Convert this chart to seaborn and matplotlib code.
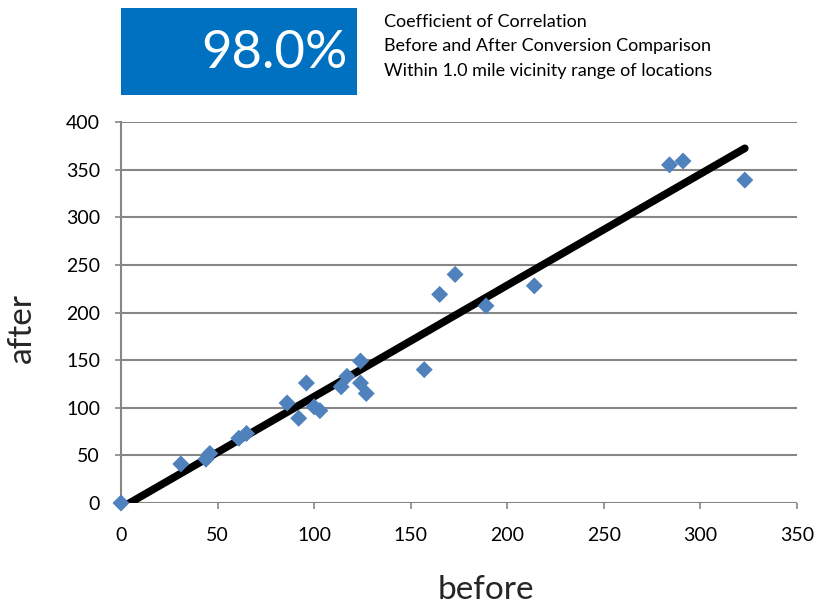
import matplotlib
matplotlib.use("Agg")
import matplotlib.pyplot as plt
import seaborn as sns
import pandas as pd
import numpy as np
from matplotlib.patches import Rectangle

before = [0, 31, 44, 46, 61, 65, 86, 92, 96, 100, 103, 114, 117, 124, 124, 127,
          157, 165, 173, 189, 214, 284, 291, 323]
after = [0, 41, 46, 52, 68, 73, 105, 89, 126, 101, 97, 122, 133, 149, 126, 115,
         140, 219, 240, 207, 228, 355, 359, 339]
x_ticks = [0, 50, 100, 150, 200, 250, 300, 350]
y_ticks = [0, 50, 100, 150, 200, 250, 300, 350, 400]
headline = "98.0%"
note_lines = ["Coefficient of Correlation",
              "Before and After Conversion Comparison",
              "Within 1.0 mile vicinity range of locations"]

df = pd.DataFrame({"before": before, "after": after})

sns.set_theme(style="white")
plt.rcParams['font.family'] = ['Lato', 'DejaVu Sans']

fig = plt.figure(figsize=(8.18, 6.09), dpi=100)
ax = fig.add_axes([0.1479, 0.174, 0.8264, 0.6257])

grid_c = "#868686"
for yv in y_ticks:
    ax.axhline(yv, color=grid_c, lw=1.5, zorder=0)

sns.regplot(data=df, x="before", y="after", scatter=False, ci=None, truncate=True,
            line_kws=dict(color="black", lw=5.5, solid_capstyle="round", zorder=2), ax=ax)
sns.scatterplot(data=df, x="before", y="after", marker="D", s=75, color="#4F81BD",
                edgecolor="none", linewidth=0, zorder=3, ax=ax, clip_on=False)

ax.set_xlim(0, 350)
ax.set_ylim(0, 400)
ax.set_xticks(x_ticks)
ax.set_yticks(y_ticks)
ax.tick_params(axis="both", labelsize=14, colors="black", length=4, width=1.2,
               direction="out", bottom=True, left=True)
ax.tick_params(axis="both", color=grid_c)
ax.tick_params(axis="x", pad=13)
ax.tick_params(axis="y", pad=11)
for s in ["top", "right", "bottom"]:
    ax.spines[s].set_visible(False)
ax.spines["left"].set_color(grid_c)
ax.spines["left"].set_linewidth(1.5)
ax.set_xlabel("")
ax.set_ylabel("")
fig.text(486 / 818, 1 - 590 / 609, "before", fontsize=24, ha="center", va="center")
fig.text(22 / 818, 1 - 328 / 609, "after", fontsize=24, ha="center", va="center",
         rotation=90)

fig.patches.append(Rectangle((121 / 818, 1 - 95 / 609), (357 - 121) / 818, (95 - 8) / 609,
                             transform=fig.transFigure, facecolor="#0070C0",
                             edgecolor="none"))
fig.text(348 / 818, 1 - 53 / 609, headline, color="white", fontsize=38,
         ha="right", va="center")
for i, line in enumerate(note_lines):
    fig.text(384 / 818, 1 - (22 + i * 24.5) / 609, line, fontsize=13,
             ha="left", va="center", color="black")

fig.savefig("out.png", dpi=100)
